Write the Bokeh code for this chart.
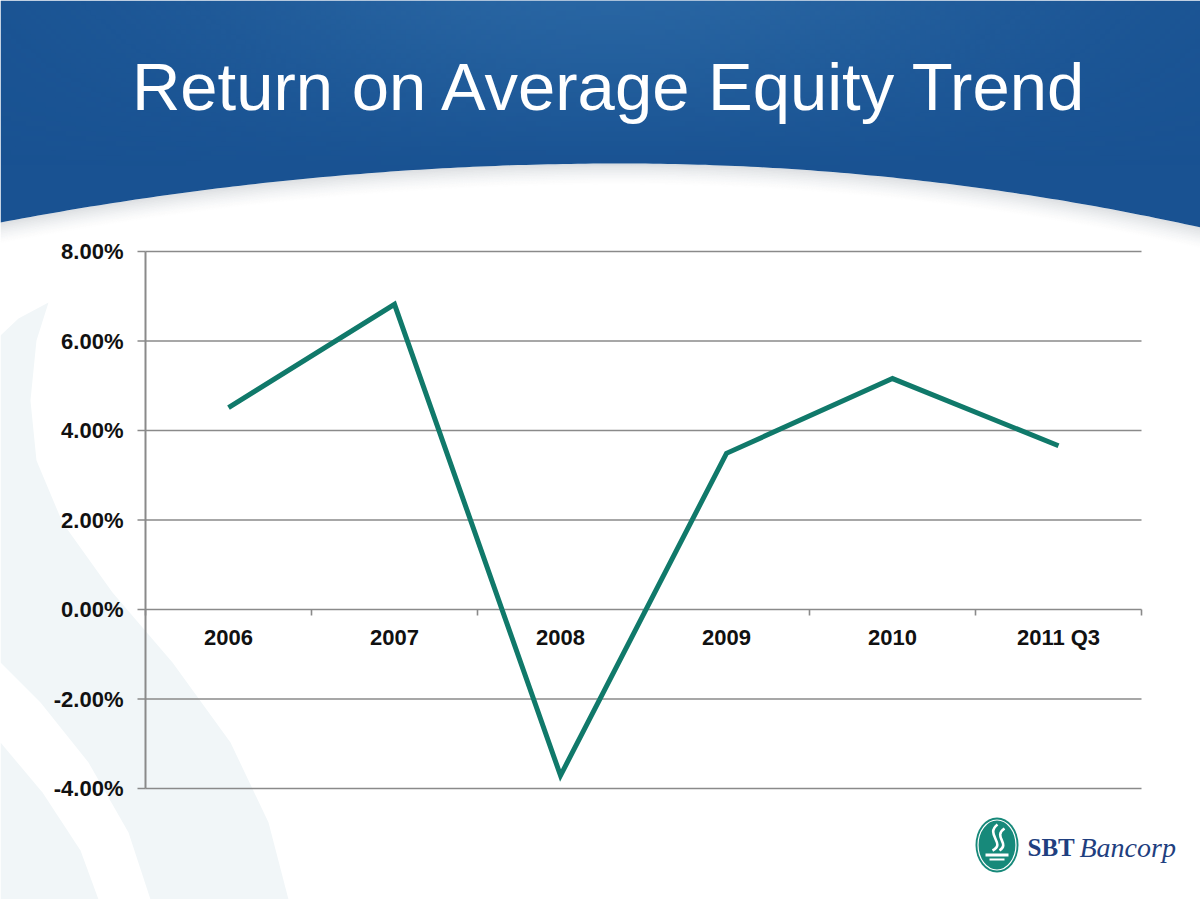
import numpy as np
from bokeh.plotting import figure
from bokeh.models import Range1d
from bokeh.core.properties import value
from bokeh.embed import file_html
from bokeh.resources import INLINE

# ---------------- data ----------------
categories = ["2006", "2007", "2008", "2009", "2010", "2011 Q3"]
roe_pct = [4.51, 6.82, -3.71, 3.49, 5.16, 3.66]
y_ticks = [-4, -2, 0, 2, 4, 6, 8]
y_tick_labels = ["-4.00%", "-2.00%", "0.00%", "2.00%", "4.00%", "6.00%", "8.00%"]
title_text = "Return on Average Equity Trend"

# ---------------- layout (page pixels) ----------------
W, H = 1200, 899
PL, PR, PT, PB = 145, 1141, 251, 788
YMIN, YMAX = -4, 8
n = len(categories)


def Y(py):
    return H - py


p = figure(width=W, height=H, output_backend="svg", toolbar_location=None,
           x_range=Range1d(0, W), y_range=Range1d(0, H),
           x_axis_location=None, y_axis_location=None, min_border=0,
           outline_line_color=None, background_fill_color="white",
           border_fill_color="white")
for g in p.grid:
    g.visible = False

ppu_x = (PR - PL) / n
ppu_y = (PB - PT) / (YMAX - YMIN)
p.extra_x_ranges = {"cat": Range1d(-PL / ppu_x, n + (W - PR) / ppu_x)}
p.extra_y_ranges = {"pct": Range1d(YMIN - (H - PB) / ppu_y, YMAX + PT / ppu_y)}

# ---------------- background swooshes ----------------
sw_a = [(0, 335), (18, 318), (48, 302), (36, 340), (30, 400), (36, 460), (62, 522),
        (112, 592), (172, 662), (230, 742), (268, 822), (288, 899), (150, 899),
        (128, 832), (88, 762), (40, 702), (0, 662)]
sw_b = [(0, 742), (42, 792), (80, 850), (98, 899), (0, 899)]
p.patches(xs=[[q[0] for q in sw_a], [q[0] for q in sw_b]],
          ys=[[Y(q[1]) for q in sw_a], [Y(q[1]) for q in sw_b]],
          fill_color="#f1f6f8", line_color=None)

# ---------------- header ----------------
hx = np.linspace(0, W, 161)
k = np.where(hx < 620, 1.535e-4, 1.9e-4)
hy = 163 + k * (hx - 620) ** 2

nb = 14
sx, sy, sa = [], [], []
for i in range(nb):
    top = hy + i * 1.6
    bot = hy + (i + 1) * 1.6
    sx.append(list(hx) + list(hx[::-1]))
    sy.append([Y(v) for v in top] + [Y(v) for v in bot[::-1]])
    sa.append(0.30 * (1 - i / nb) ** 1.6)
p.patches(xs=sx, ys=sy, fill_color="#8f97a3", fill_alpha=sa, line_color=None)

p.patch(x=list(hx) + [W, 0], y=[Y(v) for v in hy] + [H, H],
        fill_color="#195292", line_color=None)

gw, gh = 240, 34
gx = np.linspace(0, W, gw)
gpy = np.linspace(165, 0, gh)
XX, PP = np.meshgrid(gx, gpy)
alpha = 0.75 * np.exp(-((XX - 610) / 430) ** 2) * np.clip(1 - PP / 170, 0, 1) ** 0.9
img = np.empty((gh, gw), dtype=np.uint32)
v = img.view(dtype=np.uint8).reshape((gh, gw, 4))
v[:, :, 0] = 46
v[:, :, 1] = 108
v[:, :, 2] = 168
v[:, :, 3] = (alpha * 255).astype(np.uint8)
p.image_rgba(image=[img], x=0, y=Y(165), dw=W, dh=165)

p.text(x=[610], y=[Y(86)], text=[title_text], text_align="center",
       text_baseline="middle", text_color="white",
       text_font=value("Liberation Sans"), text_font_size="67px")

# ---------------- chart ----------------
p.segment(x0=[0] * len(y_ticks), x1=[n] * len(y_ticks), y0=y_ticks, y1=y_ticks,
          x_range_name="cat", y_range_name="pct",
          line_color="#8a8a8a", line_width=1.6)
p.segment(x0=[0], x1=[0], y0=[YMIN], y1=[YMAX], x_range_name="cat",
          y_range_name="pct", line_color="#8a8a8a", line_width=2)
p.ray(x=[0] * len(y_ticks), y=y_ticks, length=8, length_units="screen",
      angle=np.pi, x_range_name="cat", y_range_name="pct",
      line_color="#8a8a8a", line_width=1.6)
p.ray(x=list(range(n + 1)), y=[0] * (n + 1), length=6, length_units="screen",
      angle=-np.pi / 2, x_range_name="cat", y_range_name="pct",
      line_color="#8a8a8a", line_width=1.6)

p.text(x=[0] * len(y_ticks), y=y_ticks, text=y_tick_labels, x_offset=-22,
       text_align="right", text_baseline="middle", text_color="#111111",
       text_font=value("Liberation Sans"), text_font_style="bold",
       text_font_size="22px", x_range_name="cat", y_range_name="pct")

cat_x = [i + 0.5 for i in range(n)]
p.text(x=cat_x, y=[0] * n, text=categories, y_offset=28,
       text_align="center", text_baseline="middle", text_color="#111111",
       text_font=value("Liberation Sans"), text_font_style="bold",
       text_font_size="22px", x_range_name="cat", y_range_name="pct")

p.line(x=cat_x, y=roe_pct, line_color="#10796a", line_width=5,
       line_join="miter", x_range_name="cat", y_range_name="pct")

# ---------------- logo ----------------
p.ellipse(x=[996.5], y=[Y(844.5)], width=43, height=55,
          fill_color="#17897a", line_color=None)
p.ellipse(x=[996.5], y=[Y(844.5)], width=38, height=50,
          fill_color=None, line_color="white", line_width=1.2)
p.quad(left=[985], right=[1008], top=[Y(853)], bottom=[Y(856)],
       fill_color="white", line_color=None)
p.quad(left=[989], right=[1004], top=[Y(858)], bottom=[Y(860)],
       fill_color="white", line_color=None)
p.bezier(x0=[992, 999], y0=[Y(850), Y(850)],
         x1=[997, 1004], y1=[Y(824), Y(828)],
         cx0=[1006, 1010], cy0=[Y(843), Y(843)],
         cx1=[984, 992], cy1=[Y(834), Y(836)],
         line_color="white", line_width=2.6)
p.text(x=[1027], y=[Y(847)], text=["SBT"], text_align="left",
       text_baseline="middle", text_color="#1f3f80",
       text_font=value("Liberation Serif"), text_font_style="bold",
       text_font_size="25px")
p.text(x=[1079], y=[Y(847)], text=["Bancorp"], text_align="left",
       text_baseline="middle", text_color="#1f3f80",
       text_font=value("Liberation Serif"), text_font_style="italic",
       text_font_size="28px")

open("out.html", "w").write(file_html(p, INLINE))
